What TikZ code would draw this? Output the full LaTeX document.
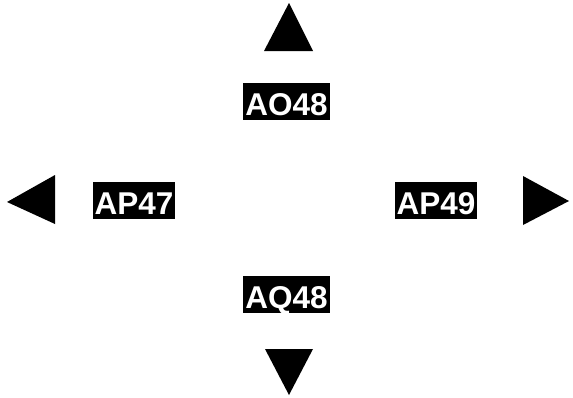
\documentclass[tikz,border=0pt]{standalone}
\usepackage{fontspec}
\setmainfont{Liberation Sans}
\usepackage{tikz}
\tikzset{
  cell/.style={fill=black, text=white, font=\fontsize{31.5}{35}\selectfont\bfseries,
    inner xsep=2pt, inner ysep=4.5pt, text height=28pt, text depth=0pt}
}

\begin{document}
\begin{tikzpicture}[x=1pt, y=-1pt]
  \useasboundingbox (0,0) rectangle (573,397);
  %% 1. Labels
  \node[cell] (ao48) at (286.5,101.5) {AO48};
  \node[cell] (ap47) at (134,200) {AP47};
  \node[cell] (ap49) at (436,200) {AP49};
  \node[cell] (aq48) at (286.5,294.5) {AQ48};
  %% 2. Arrows
  \fill[black] (289,3) -- (264,51) -- (313,51) -- cycle;
  \fill[black] (289,395) -- (265,349) -- (313,349) -- cycle;
  \fill[black] (7,202) -- (55,175) -- (55,224) -- cycle;
  \fill[black] (569,201) -- (523,176) -- (523,225) -- cycle;
\end{tikzpicture}
\end{document}
